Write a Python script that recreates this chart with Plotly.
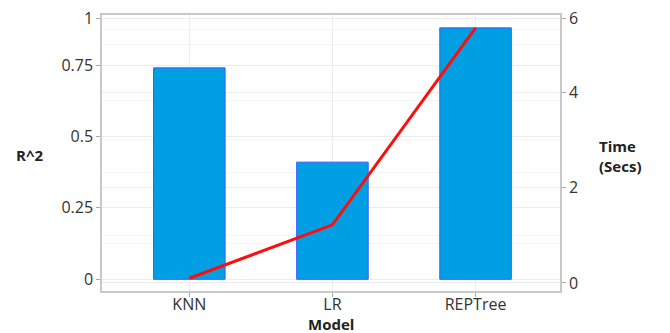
import plotly.graph_objects as go

models = ["KNN", "LR", "REPTree"]
r2 = [0.74, 0.41, 0.88]
time_secs = [0.1, 1.22, 5.35]

left_ticks = [0, 0.25, 0.5, 0.75]
left_labels = ["0", "0.25", "0.5", "0.75"]
right_ticks = [0, 2, 4]
right_labels = ["0", "2", "4"]

LEFT_RANGE = [-0.041, 0.925]
RIGHT_RANGE = [-0.168, 5.62]

fig = go.Figure()
fig.add_trace(go.Bar(
    x=models, y=r2, width=0.5,
    marker=dict(color="#009fe3", line=dict(color="#3a5cff", width=1)),
    yaxis="y", showlegend=False,
))
fig.add_trace(go.Scatter(
    x=models, y=time_secs, mode="lines",
    line=dict(color="#ff0d0d", width=3),
    yaxis="y2", showlegend=False,
))

font = dict(family="Open Sans, Segoe UI, sans-serif", size=16, color="#333333")
grid = "#ececec"
minor_grid = "#f5f5f5"
border = "#c8c8c8"

# the top label sits just below the frame's top edge, as in the reference
left_top = LEFT_RANGE[1] - 0.011
right_top = RIGHT_RANGE[1] - 0.065

fig.update_layout(
    width=662, height=325,
    margin=dict(l=94, r=110, t=7, b=42, autoexpand=False),
    paper_bgcolor="white", plot_bgcolor="white",
    font=font,
    bargap=0.5,
    xaxis=dict(
        type="category", range=[-0.61, 2.59], automargin=False,
        showline=True, mirror=True, linecolor=border, linewidth=1.5,
        showgrid=True, gridcolor=grid,
        ticks="outside", ticklen=4, tickcolor="#aaaaaa",
        ticklabelstandoff=-6,
        tickfont=dict(size=16, color="#333333"),
    ),
    yaxis=dict(
        range=LEFT_RANGE, automargin=False,
        tickmode="array",
        tickvals=left_ticks + [left_top],
        ticktext=left_labels + ["1"],
        ticklabeloverflow="allow",
        showline=True, linecolor=border, linewidth=1.5,
        showgrid=True, gridcolor=grid, zeroline=False,
        ticks="outside", ticklen=4, tickcolor="#aaaaaa",
        tickfont=dict(size=16, color="#333333"),
        minor=dict(tickvals=[0.125, 0.375, 0.625, 0.875], showgrid=True,
                   gridcolor=minor_grid, ticks=""),
    ),
    yaxis2=dict(
        range=RIGHT_RANGE, overlaying="y", side="right", automargin=False,
        tickmode="array",
        tickvals=right_ticks + [right_top],
        ticktext=right_labels + ["6"],
        ticklabeloverflow="allow",
        showline=True, linecolor=border, linewidth=1.5,
        showgrid=True, gridcolor=grid, zeroline=False,
        ticks="outside", ticklen=4, tickcolor="#aaaaaa",
        tickfont=dict(size=16, color="#333333"),
        minor=dict(tickvals=[1, 3, 5], showgrid=True,
                   gridcolor=minor_grid, ticks=""),
    ),
    annotations=[
        dict(text="<b>R^2</b>", xref="paper", yref="paper",
             x=-0.159, y=0.493, xanchor="center", yanchor="middle",
             showarrow=False, font=dict(size=15, color="#222222")),
        dict(text="<b>Time<br>(Secs)</b>", xref="paper", yref="paper",
             x=1.131, y=0.49, xanchor="center", yanchor="middle", align="left",
             showarrow=False, font=dict(size=15, color="#222222")),
        dict(text="<b>Model</b>", xref="paper", yref="paper",
             x=0.5, y=-0.12, xanchor="center", yanchor="middle",
             showarrow=False, font=dict(size=15, color="#222222")),
    ],
)

fig.write_html("out.html")
